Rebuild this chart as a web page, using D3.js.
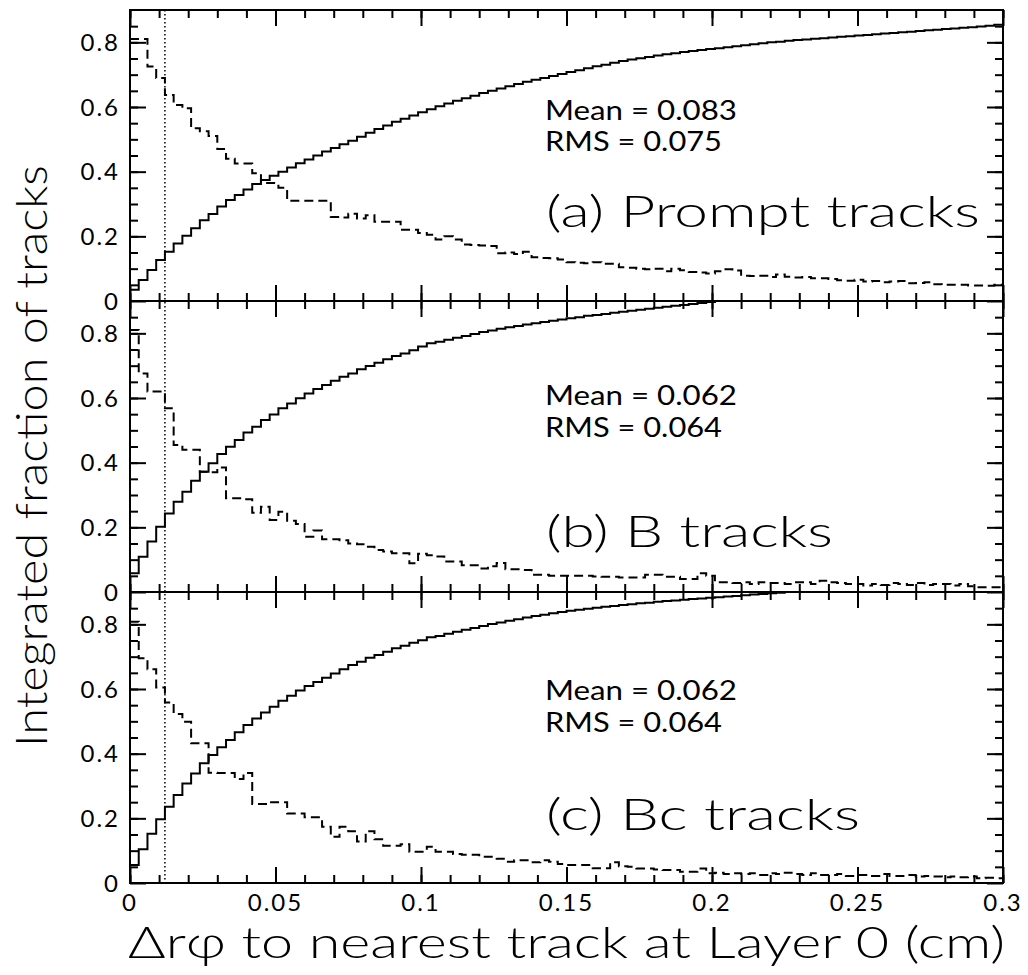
<!DOCTYPE html>
<html>
<head>
<meta charset="utf-8">
<script src="https://d3js.org/d3.v7.min.js"></script>
<style>
  body { margin: 0; background: #fff; }
  svg text { font-family: Lato, "DejaVu Sans", sans-serif; fill: #000; font-weight: 300; }
</style>
</head>
<body>
<script>
// 100 bins of 0.003 cm from 0 to 0.3
const binWidth = 0.003
const cutValue = 0.012

const panelNames = ['(a) Prompt tracks', '(b) B tracks', '(c) Bc tracks']
const meanValues = ['0.083', '0.062', '0.062']
const rmsValues = ['0.075', '0.064', '0.064']
const xTickLabels = ['0', '0.05', '0.1', '0.15', '0.2', '0.25', '0.3']
const yTickLabels = ['0', '0.2', '0.4', '0.6', '0.8']

// integrated fraction (solid)
const promptCum = [0.035,0.065,0.096,0.127,0.152,0.178,0.202,0.225,0.250,0.269,
  0.292,0.312,0.328,0.345,0.362,0.374,0.387,0.400,0.413,0.426,
  0.438,0.450,0.462,0.473,0.485,0.496,0.508,0.520,0.532,0.543,
  0.554,0.564,0.574,0.584,0.593,0.602,0.611,0.619,0.627,0.635,
  0.643,0.650,0.657,0.664,0.671,0.678,0.684,0.690,0.696,0.702,
  0.708,0.714,0.720,0.726,0.731,0.737,0.742,0.747,0.751,0.755,
  0.759,0.763,0.766,0.770,0.773,0.776,0.779,0.782,0.785,0.788,
  0.791,0.794,0.797,0.800,0.802,0.805,0.807,0.809,0.811,0.813,
  0.815,0.817,0.819,0.821,0.823,0.825,0.827,0.829,0.831,0.833,
  0.835,0.837,0.839,0.841,0.843,0.845,0.847,0.849,0.851,0.854]
const bCum = [0.058,0.109,0.156,0.202,0.243,0.279,0.310,0.344,0.372,0.398,
  0.427,0.449,0.470,0.493,0.511,0.532,0.549,0.568,0.583,0.599,
  0.614,0.628,0.640,0.653,0.666,0.676,0.689,0.699,0.709,0.720,
  0.730,0.738,0.748,0.759,0.769,0.774,0.780,0.786,0.792,0.798,
  0.804,0.809,0.814,0.819,0.823,0.827,0.831,0.835,0.839,0.843,
  0.847,0.850,0.854,0.857,0.860,0.864,0.867,0.870,0.873,0.876,
  0.879,0.882,0.885,0.888,0.891,0.894,0.897,0.900,0.903,0.906,
  0.908,0.911,0.913,0.916,0.918,0.920,0.922,0.924,0.926,0.928,
  0.930,0.932,0.934,0.936,0.937,0.939,0.941,0.942,0.944,0.945,
  0.947,0.948,0.950,0.951,0.952,0.954,0.955,0.956,0.957,0.958]
const bcCum = [0.056,0.104,0.152,0.197,0.236,0.272,0.308,0.339,0.370,0.396,
  0.420,0.442,0.466,0.489,0.509,0.527,0.545,0.564,0.579,0.595,
  0.609,0.622,0.635,0.648,0.661,0.674,0.684,0.697,0.705,0.715,
  0.726,0.734,0.743,0.751,0.760,0.764,0.771,0.777,0.783,0.789,
  0.795,0.801,0.806,0.811,0.816,0.821,0.826,0.830,0.834,0.838,
  0.842,0.845,0.848,0.851,0.854,0.857,0.860,0.862,0.865,0.867,
  0.870,0.872,0.874,0.876,0.878,0.880,0.882,0.884,0.886,0.888,
  0.890,0.892,0.894,0.896,0.898,0.900,0.902,0.904,0.906,0.908,
  0.909,0.911,0.912,0.914,0.915,0.917,0.918,0.919,0.921,0.922,
  0.923,0.924,0.925,0.926,0.927,0.928,0.929,0.930,0.931,0.932]

// distribution (dashed)
const promptDiff = [0.81,0.81,0.725,0.69,0.637,0.606,0.596,0.534,0.525,0.51,
  0.47,0.44,0.425,0.425,0.395,0.365,0.365,0.35,0.31,0.31,
  0.31,0.31,0.31,0.26,0.258,0.27,0.255,0.265,0.245,0.245,
  0.245,0.22,0.22,0.21,0.205,0.19,0.2,0.19,0.175,0.173,
  0.172,0.17,0.148,0.15,0.145,0.152,0.135,0.133,0.132,0.128,
  0.12,0.118,0.117,0.12,0.115,0.115,0.104,0.103,0.1,0.098,
  0.1,0.092,0.1,0.095,0.09,0.088,0.085,0.092,0.098,0.094,
  0.078,0.077,0.078,0.074,0.082,0.075,0.073,0.074,0.07,0.07,
  0.068,0.064,0.063,0.066,0.06,0.062,0.058,0.06,0.062,0.055,
  0.056,0.058,0.052,0.05,0.05,0.05,0.048,0.048,0.047,0.05]
const bDiff = [0.81,0.676,0.62,0.62,0.568,0.455,0.44,0.44,0.372,0.37,
  0.385,0.29,0.29,0.287,0.245,0.264,0.223,0.248,0.22,0.21,
  0.171,0.19,0.163,0.163,0.16,0.15,0.148,0.14,0.13,0.125,
  0.12,0.12,0.089,0.118,0.114,0.11,0.094,0.094,0.083,0.083,
  0.073,0.08,0.09,0.07,0.07,0.068,0.053,0.053,0.05,0.05,
  0.05,0.05,0.05,0.048,0.047,0.047,0.045,0.045,0.045,0.053,
  0.053,0.047,0.047,0.04,0.04,0.058,0.05,0.03,0.03,0.028,
  0.03,0.025,0.03,0.028,0.028,0.025,0.03,0.03,0.025,0.035,
  0.03,0.028,0.025,0.025,0.02,0.025,0.022,0.028,0.025,0.022,
  0.028,0.022,0.025,0.025,0.02,0.025,0.018,0.015,0.015,0.015]
const bcDiff = [0.808,0.695,0.661,0.605,0.558,0.523,0.499,0.432,0.432,0.341,
  0.34,0.34,0.322,0.34,0.244,0.244,0.25,0.25,0.215,0.215,
  0.203,0.203,0.174,0.143,0.174,0.16,0.128,0.16,0.135,0.115,
  0.115,0.12,0.097,0.097,0.112,0.097,0.097,0.09,0.087,0.087,
  0.081,0.081,0.075,0.066,0.07,0.07,0.064,0.07,0.066,0.059,
  0.056,0.056,0.056,0.046,0.046,0.064,0.052,0.05,0.045,0.045,
  0.042,0.04,0.04,0.035,0.035,0.045,0.03,0.032,0.028,0.03,
  0.028,0.03,0.025,0.03,0.028,0.032,0.028,0.025,0.03,0.025,
  0.025,0.028,0.022,0.025,0.025,0.022,0.028,0.022,0.022,0.025,
  0.02,0.022,0.02,0.018,0.02,0.018,0.02,0.015,0.016,0.015]

const cumSeries = [promptCum, bCum, bcCum]
const diffSeries = [promptDiff, bDiff, bcDiff]

// layout
const W = 1028, H = 975
const plotLeft = 130, plotRight = 1003, plotTop = 10, panelH = 291
const meanY = [120, 405, 700], rmsY = [151, 437, 732], nameY = [227, 547, 830]
const nameWidth = [434, 287, 314]

const svg = d3.select('body').append('svg')
    .attr('width', W)
    .attr('height', H)

const x = d3.scaleLinear().domain([0, 0.3]).range([plotLeft, plotRight])

const xMinor = d3.range(0, 0.3001, 0.01)
const xMajor = d3.range(0, 0.3001, 0.05)
const yMinor = d3.range(0.05, 0.89, 0.05)
const yMajor = [0, 0.2, 0.4, 0.6, 0.8]

function toSteps(vals) {
  const pts = vals.map((v, i) => [i * binWidth, v])
  pts.push([vals.length * binWidth, vals[vals.length - 1]])
  return pts
}

function ticks(g, axis, vals, size) {
  g.call(axis.tickValues(vals).tickSize(size).tickFormat(''))
  g.select('.domain').remove()
  g.selectAll('.tick line').attr('stroke', '#000').attr('stroke-width', 2)
}

cumSeries.forEach((cum, k) => {
  const y0 = plotTop + k * panelH
  const y = d3.scaleLinear().domain([0, 0.9]).range([y0 + panelH, y0])
  const panel = svg.append('g').attr('class', 'panel')

  panel.append('clipPath').attr('id', 'clip' + k)
    .append('rect')
      .attr('x', plotLeft).attr('y', y0)
      .attr('width', plotRight - plotLeft).attr('height', panelH)

  const line = d3.line()
    .x(d => x(d[0]))
    .y(d => y(d[1]))
    .curve(d3.curveStepAfter)

  const curves = panel.append('g').attr('clip-path', 'url(#clip' + k + ')')
  curves.append('path')
    .attr('d', line(toSteps(diffSeries[k])))
    .attr('fill', 'none')
    .attr('stroke', '#000')
    .attr('stroke-width', 2)
    .attr('stroke-dasharray', '9,5')
  curves.append('path')
    .attr('d', line(toSteps(cum)))
    .attr('fill', 'none')
    .attr('stroke', '#000')
    .attr('stroke-width', 2)

  // ticks on all four sides, pointing inwards
  const bottom = 'translate(0,' + (y0 + panelH) + ')'
  const topEdge = 'translate(0,' + y0 + ')'
  ticks(panel.append('g').attr('transform', bottom), d3.axisTop(x), xMinor, 8)
  ticks(panel.append('g').attr('transform', bottom), d3.axisTop(x), xMajor, 16)
  ticks(panel.append('g').attr('transform', topEdge), d3.axisBottom(x), xMinor, 8)
  ticks(panel.append('g').attr('transform', topEdge), d3.axisBottom(x), xMajor, 16)
  ticks(panel.append('g').attr('transform', 'translate(' + plotLeft + ',0)'), d3.axisRight(y), yMinor, 8)
  ticks(panel.append('g').attr('transform', 'translate(' + plotLeft + ',0)'), d3.axisRight(y), yMajor, 16)
  ticks(panel.append('g').attr('transform', 'translate(' + plotRight + ',0)'), d3.axisLeft(y), yMinor, 8)
  ticks(panel.append('g').attr('transform', 'translate(' + plotRight + ',0)'), d3.axisLeft(y), yMajor, 16)

  panel.append('rect')
    .attr('x', plotLeft).attr('y', y0)
    .attr('width', plotRight - plotLeft).attr('height', panelH)
    .attr('fill', 'none')
    .attr('stroke', '#000')
    .attr('stroke-width', 2)

  panel.selectAll('.ylab')
    .data(yMajor)
    .enter().append('text')
      .attr('class', 'ylab')
      .attr('x', plotLeft - 10)
      .attr('y', d => y(d))
      .attr('dy', '0.36em')
      .attr('text-anchor', 'end')
      .style('font-size', '24px')
      .style('font-weight', 400)
      .style('letter-spacing', '2px')
      .text((d, i) => yTickLabels[i])

  panel.append('text')
    .attr('x', 545).attr('y', meanY[k])
    .attr('textLength', 192).attr('lengthAdjust', 'spacingAndGlyphs')
    .style('font-size', '26px')
    .style('font-weight', 400)
    .text('Mean = ' + meanValues[k])
  panel.append('text')
    .attr('x', 545).attr('y', rmsY[k])
    .attr('textLength', 177).attr('lengthAdjust', 'spacingAndGlyphs')
    .style('font-size', '26px')
    .style('font-weight', 400)
    .text('RMS = ' + rmsValues[k])
  panel.append('text')
    .attr('x', 546).attr('y', nameY[k])
    .attr('textLength', nameWidth[k]).attr('lengthAdjust', 'spacingAndGlyphs')
    .style('font-size', '43px')
    .text(panelNames[k])
})

// cut line
svg.append('line')
  .attr('x1', x(cutValue)).attr('x2', x(cutValue))
  .attr('y1', plotTop).attr('y2', plotTop + 3 * panelH)
  .attr('stroke', '#000')
  .attr('stroke-width', 1.5)
  .attr('stroke-dasharray', '1.5,2.5')

svg.selectAll('.xlab')
  .data(xMajor)
  .enter().append('text')
    .attr('class', 'xlab')
    .attr('x', d => x(d))
    .attr('y', plotTop + 3 * panelH + 28)
    .attr('text-anchor', 'middle')
    .style('font-size', '24px')
    .style('font-weight', 400)
    .style('letter-spacing', '2px')
    .text((d, i) => xTickLabels[i])

svg.append('text')
  .attr('x', 128).attr('y', 958)
  .attr('textLength', 877).attr('lengthAdjust', 'spacingAndGlyphs')
  .style('font-size', '43px')
  .text('\u0394r\u03c6 to nearest track at Layer 0 (cm)')

svg.append('text')
  .attr('transform', 'translate(47,456) rotate(-90)')
  .attr('text-anchor', 'middle')
  .attr('textLength', 582).attr('lengthAdjust', 'spacingAndGlyphs')
  .style('font-size', '43px')
  .text('Integrated fraction of tracks')
</script>
</body>
</html>
